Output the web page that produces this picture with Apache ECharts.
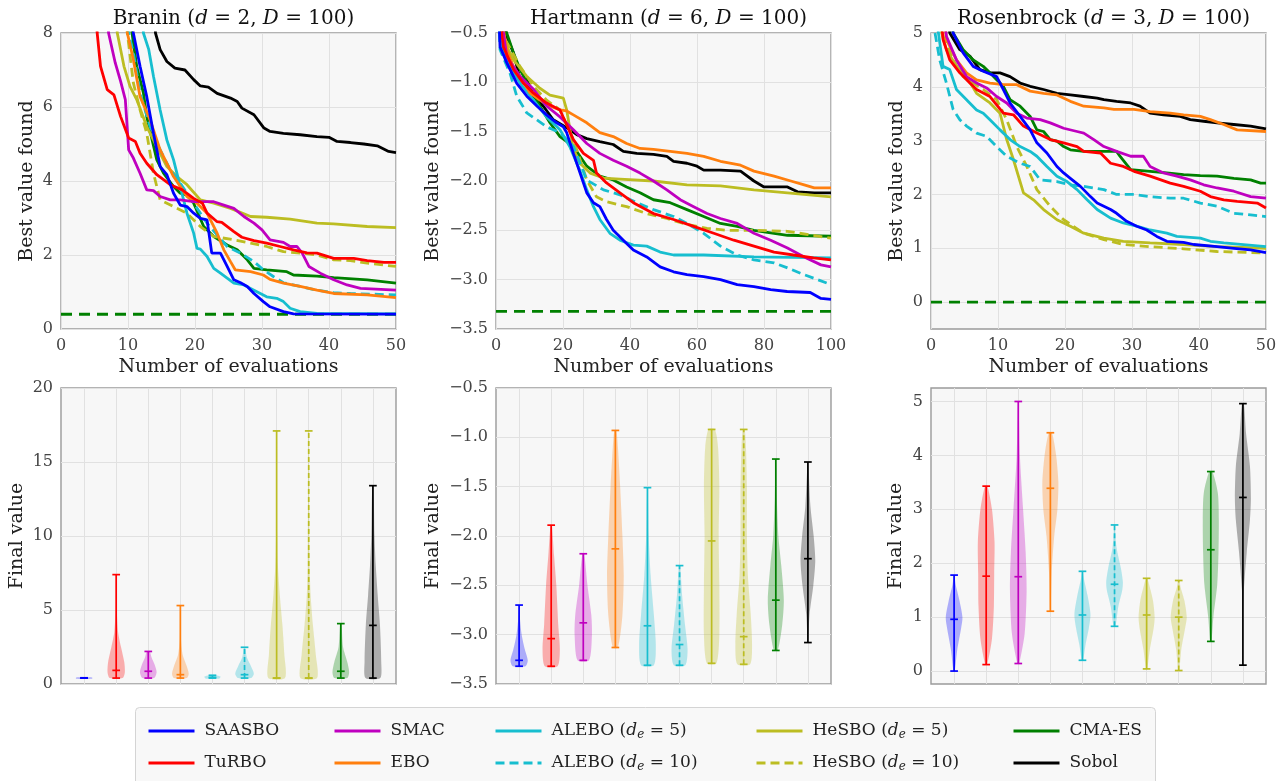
<!DOCTYPE html>
<html>
<head>
<meta charset="utf-8">
<script src="https://cdn.jsdelivr.net/npm/echarts@6/dist/echarts.min.js"></script>
<style>
  html, body { margin: 0; padding: 0; background: #fff; }
  #chart { width: 1286px; height: 781px; }
</style>
</head>
<body>
<div id="chart"></div>
<script>
// methods, in legend order (column by column)
const methods = ['SAASBO', 'TuRBO', 'SMAC', 'EBO', 'ALEBO (d_e = 5)', 'ALEBO (d_e = 10)',
  'HeSBO (d_e = 5)', 'HeSBO (d_e = 10)', 'CMA-ES', 'Sobol'];
const colors = ['#0000ff', '#ff0000', '#bf00bf', '#ff7f0e', '#17becf', '#17becf',
  '#bcbd22', '#bcbd22', '#008000', '#000000'];
const dashed = [false, false, false, false, false, true, false, true, false, false];

// ---- Branin (d = 2, D = 100), best value found vs evaluations ----
const braninSaasbo = [[1,60],[10.5,8.6],[10.8,8],[11.8,7.1],[12.8,6.28],[13.8,5.29],[14.8,4.39],[15.8,4.17],[16.8,3.67],[17.8,3.35],[18.8,3.31],[19.8,3.13],[20.8,2.99],[21.8,2.95],[22.5,2.05],[23.8,2.05],[24.8,1.69],[25.8,1.33],[26.8,1.25],[27.8,1.15],[28.8,0.96],[30.2,0.74],[31.2,0.6],[33.2,0.47],[34.7,0.41],[50,0.40]];
const braninTurbo = [[1,60],[5.2,8.6],[5.4,8],[5.9,7.1],[6.9,6.47],[7.9,6.33],[8.9,5.74],[10.1,5.16],[11.1,5.07],[11.8,4.75],[12.8,4.48],[14.3,4.17],[16.3,3.9],[18.1,3.76],[19.8,3.53],[21.1,3.4],[21.8,3.13],[23.3,2.9],[24,2.88],[25.8,2.63],[27,2.48],[28.8,2.39],[30.7,2.32],[32.7,2.23],[34.7,2.14],[36.7,2.06],[38.2,2.05],[40.7,1.91],[43.7,1.91],[45.7,1.85],[48.2,1.8],[50,1.8]];
const braninSmac = [[1,60],[6.9,8.6],[7.1,8],[8.1,7.19],[8.9,6.69],[9.6,6.2],[10.1,4.84],[10.8,4.62],[11.8,4.21],[12.8,3.76],[13.8,3.74],[14.8,3.58],[16.3,3.49],[17.8,3.49],[19.8,3.44],[22.8,3.44],[24.3,3.35],[25.8,3.26],[27.3,3.04],[28.8,2.86],[30,2.68],[31.2,2.41],[33.2,2.34],[34.2,2.23],[35.2,2.23],[36,2.05],[37,1.69],[38.7,1.51],[40.7,1.33],[42.7,1.19],[44.7,1.1],[50,1.05]];
const braninEbo = [[1,60],[9.7,8.6],[9.9,8],[10.8,7.28],[11.8,6.28],[13.3,5.65],[14.8,4.84],[16.8,4.12],[18.8,3.58],[20.3,3.4],[21.8,3.13],[23.3,2.59],[24.3,2.14],[25.3,1.82],[26,1.6],[28.3,1.55],[30.2,1.46],[31.2,1.34],[33.2,1.24],[35.7,1.15],[38.2,1.05],[40.7,0.96],[45.7,0.92],[50,0.85]];
const braninAlebo5 = [[1,60],[12.1,8.6],[12.3,8],[13.1,7.55],[13.8,6.83],[14.8,5.92],[15.8,5.11],[16.8,4.57],[17.8,3.85],[18.8,3.13],[19.8,2.59],[20.3,2.18],[20.8,2.16],[21.8,1.96],[22.8,1.64],[23.8,1.51],[25.8,1.24],[27.3,1.19],[28.8,1.05],[30.7,0.87],[32.2,0.83],[33.2,0.74],[34.2,0.56],[35.7,0.47],[38.2,0.42],[50,0.41]];
const braninAlebo10 = [[1,60],[9.9,8.6],[10.1,8],[10.8,7.46],[11.8,6.38],[13.3,5.47],[14.8,4.84],[16.3,4.3],[17.8,3.94],[19.8,3.4],[21.8,2.86],[24.8,2.23],[26.8,2.05],[28.8,1.82],[30.2,1.6],[31.7,1.42],[33.2,1.25],[35.7,1.15],[38.2,1.05],[40.7,0.98],[43.2,0.96],[50,0.92]];
const braninHesbo5 = [[1,60],[8.2,8.6],[8.4,8],[9.4,7.1],[10.3,6.56],[11.3,6.2],[12.8,5.47],[14.3,4.93],[15.8,4.39],[17.3,4.12],[18.8,3.9],[20.8,3.49],[22.8,3.4],[25.3,3.26],[28.3,3.04],[30.7,3.02],[34.2,2.97],[38.2,2.86],[40.7,2.84],[45.7,2.77],[50,2.74]];
const braninHesbo10 = [[1,60],[9.7,8.6],[9.9,8],[10.8,6.65],[11.8,5.92],[12.8,5.29],[13.8,4.21],[14.8,3.49],[16.8,3.31],[18.8,3.13],[20.8,2.77],[22.8,2.5],[25.8,2.41],[28.3,2.32],[30.7,2.23],[33.2,2.09],[35.7,2.05],[38.2,2.0],[40.7,1.87],[43.2,1.85],[45.7,1.78],[50,1.69]];
const braninCmaes = [[1,60],[10.4,8.6],[10.6,8],[11.3,7.1],[12.3,6.38],[12.8,5.74],[13.6,5.11],[14.3,4.57],[15.3,4.21],[16.8,3.85],[17.8,3.67],[18.8,3.62],[19.8,3.4],[21.3,2.77],[22.8,2.5],[24.8,2.27],[26.3,2.14],[27.8,1.87],[28.8,1.64],[30.7,1.6],[33.7,1.55],[34.7,1.46],[38.2,1.43],[40.7,1.39],[45.7,1.33],[50,1.24]];
const braninSobol = [[1,60],[13.9,8.6],[14.1,8],[14.8,7.55],[15.8,7.23],[17,7.05],[18.5,7.0],[19.8,6.74],[20.8,6.57],[22,6.54],[23.3,6.37],[25.3,6.24],[26.3,6.15],[27,5.97],[28.8,5.79],[30.3,5.43],[31.2,5.34],[33.2,5.29],[35.7,5.25],[38.2,5.2],[40,5.18],[41.2,5.07],[43.2,5.04],[45.2,5.0],[47.2,4.95],[48.9,4.8],[50,4.77]];
const braninOptimum = 0.398;

// ---- Hartmann (d = 6, D = 100) ----
const hartSaasbo = [[1,-0.45],[1.2,-0.64],[3.2,-0.8],[6.2,-1.01],[9.2,-1.14],[12.2,-1.24],[15.1,-1.33],[18.1,-1.41],[20.1,-1.45],[21.1,-1.51],[23.1,-1.72],[25.1,-1.92],[27.1,-2.12],[29.1,-2.22],[31,-2.26],[33,-2.39],[35,-2.5],[38,-2.6],[41,-2.7],[45,-2.77],[49,-2.87],[53,-2.92],[57,-2.95],[62,-2.97],[67,-3.0],[72,-3.05],[77,-3.07],[82,-3.1],[86.9,-3.12],[93.8,-3.13],[97,-3.19],[100,-3.2]];
const hartTurbo = [[1,-0.3],[2.2,-0.64],[5.2,-0.87],[8.2,-1.01],[11.2,-1.11],[15.1,-1.21],[19.1,-1.28],[23.1,-1.58],[26.1,-1.72],[29.1,-1.79],[30,-1.92],[33,-2.02],[37,-2.12],[41,-2.22],[47,-2.33],[53,-2.39],[59,-2.46],[65,-2.53],[71,-2.6],[77,-2.66],[83,-2.72],[88.8,-2.75],[94.8,-2.78],[100,-2.8]];
const hartSmac = [[1,-0.2],[3.2,-0.74],[7.2,-0.94],[11.2,-1.07],[15.1,-1.24],[19.1,-1.35],[23.1,-1.48],[27.1,-1.62],[31,-1.72],[35,-1.79],[39,-1.85],[43,-1.92],[47,-2.0],[51,-2.09],[55,-2.19],[59,-2.26],[63,-2.33],[67,-2.38],[72,-2.43],[77,-2.53],[82,-2.6],[87,-2.68],[92,-2.77],[97,-2.85],[100,-2.87]];
const hartEbo = [[1,-0.2],[3.2,-0.67],[5.2,-0.84],[7.2,-0.94],[10.2,-1.11],[13.1,-1.18],[16.1,-1.24],[19.1,-1.28],[21.1,-1.29],[23.1,-1.33],[27.1,-1.41],[31,-1.51],[35,-1.55],[39,-1.62],[43,-1.67],[47,-1.68],[52,-1.7],[57,-1.72],[62,-1.75],[67,-1.8],[73,-1.84],[77,-1.9],[83,-1.95],[88,-2.0],[92,-2.04],[95,-2.07],[100,-2.07]];
const hartAlebo5 = [[1,-0.45],[1.2,-0.57],[4.2,-0.84],[7.2,-1.01],[11.2,-1.18],[15.1,-1.35],[19.1,-1.48],[22,-1.65],[25,-1.89],[27.1,-2.09],[29.1,-2.26],[31,-2.39],[34,-2.53],[37,-2.6],[41,-2.65],[45,-2.66],[49,-2.72],[53,-2.75],[62,-2.75],[77,-2.77],[100,-2.78]];
const hartAlebo10 = [[1,-0.5],[1.2,-0.67],[4.2,-0.91],[6.2,-1.14],[9.2,-1.31],[12.2,-1.38],[15.1,-1.45],[19.1,-1.51],[23.1,-1.65],[27.1,-1.99],[32.1,-2.09],[37,-2.14],[42,-2.22],[47,-2.29],[53,-2.36],[57,-2.43],[62,-2.53],[67,-2.66],[72,-2.75],[77,-2.8],[83,-2.83],[87,-2.88],[92,-2.95],[100,-3.05]];
const hartHesbo5 = [[1,-0.3],[2.2,-0.57],[5.2,-0.77],[9.2,-0.94],[13.1,-1.06],[16.1,-1.13],[20.1,-1.16],[21.1,-1.28],[23.1,-1.68],[25.1,-1.82],[28.1,-1.92],[32.1,-1.97],[37,-1.98],[47,-2.0],[57,-2.04],[67,-2.05],[77,-2.09],[87,-2.12],[100,-2.16]];
const hartHesbo10 = [[1,-0.3],[2.2,-0.53],[7.2,-0.84],[11.2,-1.04],[15.1,-1.18],[19.1,-1.28],[23.1,-1.58],[27.1,-1.99],[30,-2.16],[33,-2.21],[39,-2.26],[45,-2.33],[51,-2.38],[57,-2.44],[63,-2.48],[69,-2.5],[77,-2.5],[87,-2.51],[100,-2.58]];
const hartCmaes = [[1,-0.1],[3.2,-0.5],[5.2,-0.7],[7.2,-0.87],[10.2,-1.07],[13.1,-1.24],[16.1,-1.41],[19.1,-1.55],[23.1,-1.65],[27.1,-1.85],[31,-1.95],[35,-1.99],[39,-2.06],[43,-2.12],[47,-2.19],[52,-2.22],[57,-2.29],[62,-2.36],[67,-2.43],[72,-2.46],[77,-2.5],[87,-2.55],[100,-2.56]];
const hartSobol = [[1,-0.1],[3.2,-0.53],[5.2,-0.7],[7.2,-0.97],[9.2,-0.97],[11.2,-1.14],[14.1,-1.24],[17.1,-1.38],[21.1,-1.46],[24.1,-1.53],[27.1,-1.57],[31,-1.6],[35,-1.63],[38,-1.7],[42,-1.72],[47,-1.73],[51,-1.75],[53,-1.8],[57,-1.82],[60,-1.85],[62,-1.89],[67,-1.89],[73,-1.9],[77,-2.0],[80,-2.06],[87,-2.06],[90,-2.11],[95,-2.12],[100,-2.12]];
const hartOptimum = -3.322;

// ---- Rosenbrock (d = 3, D = 100) ----
const rosSaasbo = [[1,7],[3.3,5],[4.8,4.63],[6.3,4.38],[7.8,4.29],[9.8,4.19],[10.8,3.95],[11.8,3.7],[13.3,3.45],[14.8,3.2],[15.8,2.96],[17.3,2.77],[18.8,2.52],[19.8,2.4],[20.8,2.3],[22.3,2.15],[23.8,1.96],[24.8,1.84],[26.8,1.72],[27.7,1.65],[29.2,1.5],[30.7,1.41],[32.2,1.34],[33.7,1.22],[35.2,1.13],[37.7,1.11],[39.2,1.07],[42.7,1.03],[45.2,1.0],[47.7,0.97],[50,0.92]];
const rosTurbo = [[1,6],[1.8,4.88],[2.8,4.5],[4.3,4.26],[5.8,4.07],[6.8,3.95],[8.8,3.82],[10.8,3.51],[12.3,3.48],[13.8,3.27],[15.8,3.14],[17.8,3.02],[19.8,2.96],[21.8,2.89],[22.8,2.8],[25.3,2.77],[26.8,2.58],[28.7,2.52],[30.3,2.43],[32.7,2.34],[35.7,2.21],[37.7,2.15],[40.2,2.06],[41.7,1.96],[43.7,1.9],[45.7,1.87],[48.7,1.84],[50,1.75]];
const rosSmac = [[1,6.5],[2.3,4.94],[3.8,4.5],[5.3,4.19],[6.8,4.07],[8.3,3.98],[9.8,3.82],[11.3,3.7],[12.8,3.51],[14.3,3.42],[16.3,3.39],[17.8,3.33],[19.8,3.23],[21.8,3.17],[22.8,3.14],[24.3,3.02],[25.8,2.89],[27.7,2.8],[29.8,2.71],[31.7,2.71],[32.7,2.52],[34.7,2.4],[36.7,2.34],[38.7,2.27],[40.7,2.18],[42.7,2.12],[45.2,2.06],[47.7,1.96],[50,1.93]];
const rosEbo = [[1,6.5],[2.3,4.88],[3.8,4.5],[5.3,4.26],[6.8,4.13],[8.8,4.07],[10.8,4.04],[12.8,4.04],[14.8,3.92],[16.8,3.88],[18.8,3.85],[20.8,3.73],[22.8,3.64],[25.8,3.61],[27.3,3.58],[30.3,3.58],[32.7,3.54],[35.7,3.51],[37.7,3.48],[40.2,3.45],[41.7,3.39],[43.7,3.3],[45.7,3.2],[50,3.17]];
const rosAlebo5 = [[1,5.1],[1.8,4.38],[2.8,4.32],[3.8,3.95],[5.3,3.76],[6.8,3.57],[7.8,3.51],[8.8,3.39],[10.3,3.2],[11.8,3.02],[13.3,2.89],[14.8,2.8],[15.8,2.71],[17.3,2.52],[18.8,2.34],[20.3,2.24],[21.8,2.09],[23.3,1.9],[24.8,1.72],[26.8,1.56],[28.7,1.47],[30.7,1.41],[32.7,1.34],[35.2,1.28],[36.7,1.22],[40.2,1.19],[41.7,1.13],[43.7,1.1],[50,1.03]];
const rosAlebo10 = [[0.6,5],[1.3,4.5],[2.3,4.07],[3.3,3.58],[4.3,3.39],[5.3,3.27],[6.8,3.14],[8.3,3.08],[9.8,2.89],[11.3,2.71],[13.3,2.58],[14.8,2.52],[16.3,2.27],[18.8,2.24],[20.8,2.18],[22.8,2.15],[25.8,2.09],[27.7,2.0],[30.3,2.0],[32.7,1.96],[35.7,1.93],[37.7,1.93],[40.2,1.84],[42.7,1.78],[45.2,1.65],[47.7,1.62],[50,1.59]];
const rosHesbo5 = [[1,6],[1.6,5],[2.3,4.69],[3.8,4.38],[5.3,4.19],[6.8,3.88],[8.8,3.7],[10.3,3.51],[11.3,3.02],[12.3,2.65],[13.8,2.03],[15.3,1.9],[16.8,1.72],[18.8,1.53],[20.8,1.41],[22.8,1.28],[25.8,1.19],[28.7,1.13],[32.7,1.1],[37.7,1.07],[42.7,1.03],[50,1.0]];
const rosHesbo10 = [[1,6],[1.8,4.94],[3.3,4.5],[4.8,4.19],[6.3,4.07],[7.8,3.95],[9.8,3.76],[11.3,3.39],[12.8,2.89],[14.3,2.52],[15.8,2.09],[17.8,1.78],[19.8,1.53],[22.8,1.28],[25.8,1.16],[28.7,1.07],[32.7,1.03],[37.7,0.99],[42.7,0.94],[50,0.91]];
const rosCmaes = [[1,7],[3.3,5],[4.8,4.69],[6.3,4.5],[7.8,4.38],[8.8,4.26],[9.8,4.13],[10.8,4.01],[11.8,3.76],[13.3,3.64],[14.8,3.45],[15.8,3.2],[16.8,3.17],[17.8,3.02],[18.8,2.99],[19.8,2.89],[20.8,2.83],[22.8,2.8],[27.7,2.8],[28.2,2.71],[29.8,2.46],[32.7,2.43],[35.2,2.4],[37.7,2.37],[40.2,2.35],[42.7,2.34],[45.2,2.3],[47.7,2.27],[49.2,2.21],[50,2.21]];
const rosSobol = [[1,7],[2.8,5],[4.3,4.69],[5.8,4.57],[7.3,4.32],[8.8,4.26],[10.3,4.26],[11.8,4.19],[13.3,4.07],[14.8,4.01],[16.8,3.95],[18.8,3.88],[20.8,3.85],[22.8,3.82],[24.8,3.79],[25.8,3.76],[27.7,3.73],[29.8,3.7],[31.2,3.64],[32.7,3.51],[34.7,3.48],[37.2,3.45],[38.7,3.39],[40.7,3.36],[42.7,3.33],[45.2,3.3],[47.7,3.27],[50,3.22]];
const rosOptimum = 0;

// ---- final values (violins): min, median, max and [value, half width] outline ----
const braninMin = [0.398, 0.40, 0.40, 0.40, 0.40, 0.40, 0.40, 0.40, 0.40, 0.40];
const braninMedian = [0.40, 0.92, 0.86, 0.63, 0.45, 0.63, 0.40, 0.40, 0.86, 3.96];
const braninMax = [0.42, 7.39, 2.2, 5.3, 0.59, 2.48, 17.1, 17.1, 4.08, 13.4];
const braninShape = [
  [[0.36,0.25],[0.44,0.25]],
  [[0.4,0.2],[0.8,0.27],[1.5,0.25],[2.5,0.15],[3.5,0.06],[5,0.02],[7.39,0.01]],
  [[0.4,0.18],[0.8,0.26],[1.3,0.2],[1.8,0.1],[2.2,0.05]],
  [[0.4,0.2],[0.7,0.26],[1.2,0.2],[2,0.07],[3,0.02],[5.3,0.01]],
  [[0.38,0.22],[0.5,0.25],[0.59,0.1]],
  [[0.4,0.2],[0.7,0.29],[1.2,0.2],[1.8,0.07],[2.48,0.02]],
  [[0.4,0.26],[2,0.24],[4,0.18],[6,0.1],[8,0.04],[10,0.02],[17.1,0.01]],
  [[0.4,0.26],[2,0.22],[4,0.13],[6,0.06],[8,0.03],[17.1,0.01]],
  [[0.4,0.2],[0.8,0.26],[1.5,0.2],[2.5,0.07],[4.08,0.02]],
  [[0.4,0.23],[1.5,0.26],[4,0.22],[6,0.15],[8,0.09],[10,0.05],[13.4,0.02]]
];
const hartMin = [-3.32, -3.32, -3.26, -3.13, -3.31, -3.31, -3.29, -3.30, -3.16, -3.08];
const hartMedian = [-3.26, -3.04, -2.88, -2.13, -2.91, -3.10, -2.05, -3.02, -2.65, -2.23];
const hartMax = [-2.70, -1.89, -2.18, -0.93, -1.51, -2.30, -0.92, -0.92, -1.22, -1.25];
const hartShape = [
  [[-3.32,0.2],[-3.26,0.27],[-3.15,0.18],[-3.0,0.08],[-2.85,0.03],[-2.7,0.01]],
  [[-3.32,0.2],[-3.15,0.27],[-2.9,0.22],[-2.5,0.16],[-2.2,0.09],[-1.89,0.02]],
  [[-3.26,0.18],[-3.0,0.27],[-2.8,0.25],[-2.5,0.13],[-2.18,0.03]],
  [[-3.13,0.08],[-2.8,0.22],[-2.4,0.26],[-2.0,0.22],[-1.5,0.15],[-1.1,0.08],[-0.93,0.03]],
  [[-3.31,0.2],[-3.1,0.26],[-2.8,0.2],[-2.4,0.1],[-2.0,0.04],[-1.51,0.01]],
  [[-3.31,0.18],[-3.15,0.25],[-2.9,0.17],[-2.6,0.08],[-2.3,0.02]],
  [[-3.29,0.15],[-3.0,0.24],[-2.5,0.24],[-2.0,0.22],[-1.5,0.24],[-1.1,0.2],[-0.92,0.1]],
  [[-3.3,0.2],[-3.1,0.26],[-2.8,0.22],[-2.4,0.13],[-2.0,0.1],[-1.5,0.1],[-1.1,0.07],[-0.92,0.03]],
  [[-3.16,0.06],[-2.9,0.2],[-2.65,0.25],[-2.3,0.17],[-2.0,0.08],[-1.6,0.03],[-1.22,0.01]],
  [[-3.08,0.01],[-2.8,0.05],[-2.5,0.17],[-2.25,0.23],[-2.0,0.18],[-1.7,0.08],[-1.25,0.01]]
];
const rosMin = [0.0, 0.12, 0.14, 1.11, 0.2, 0.83, 0.04, 0.01, 0.55, 0.11];
const rosMedian = [0.96, 1.76, 1.75, 3.39, 1.04, 1.61, 1.04, 1.0, 2.25, 3.22];
const rosMax = [1.78, 3.43, 5.0, 4.42, 1.85, 2.71, 1.72, 1.68, 3.7, 4.96];
const rosShape = [
  [[0,0.02],[0.4,0.1],[0.8,0.22],[1.0,0.26],[1.3,0.17],[1.6,0.05],[1.78,0.01]],
  [[0.12,0.03],[0.6,0.18],[1.2,0.24],[1.8,0.25],[2.4,0.26],[3.0,0.18],[3.43,0.04]],
  [[0.14,0.03],[0.7,0.2],[1.5,0.26],[2.2,0.23],[3.0,0.15],[4.0,0.05],[5.0,0.01]],
  [[1.11,0.01],[1.8,0.04],[2.5,0.12],[3.0,0.22],[3.5,0.25],[4.0,0.18],[4.42,0.05]],
  [[0.2,0.02],[0.5,0.1],[0.8,0.2],[1.05,0.25],[1.4,0.16],[1.7,0.05],[1.85,0.01]],
  [[0.83,0.03],[1.2,0.12],[1.5,0.24],[1.65,0.26],[1.9,0.2],[2.3,0.06],[2.71,0.01]],
  [[0.04,0.02],[0.4,0.1],[0.8,0.22],[1.0,0.25],[1.3,0.2],[1.6,0.08],[1.72,0.02]],
  [[0.01,0.02],[0.4,0.08],[0.8,0.2],[1.0,0.25],[1.3,0.18],[1.55,0.06],[1.68,0.02]],
  [[0.55,0.02],[1.0,0.08],[1.6,0.2],[2.2,0.24],[2.8,0.25],[3.3,0.22],[3.7,0.05]],
  [[0.11,0.005],[1.0,0.01],[1.5,0.03],[2.2,0.12],[2.8,0.22],[3.2,0.25],[3.8,0.22],[4.4,0.1],[4.96,0.03]]
];

const FONT = 'DejaVu Serif';
const panelLeft = [61, 496, 931];
const panelWidth = 335;

const chart = echarts.init(document.getElementById('chart'));

// grids: 0..2 top row, 3..5 bottom row
let grids = [];
for (let r = 0; r < 2; r++) {
  for (let c = 0; c < 3; c++) {
    grids.push({
      left: panelLeft[c], top: r === 0 ? 33 : 388, width: panelWidth, height: 296,
      show: true, backgroundColor: '#f7f7f7', borderColor: '#9a9a9a', borderWidth: 1.4
    });
  }
}

function minusFmt(dec) {
  return function (v) {
    let s = dec ? v.toFixed(dec) : String(Math.round(v));
    return s.replace('-', '\u2212');
  };
}

const splitStyle = { show: true, lineStyle: { color: '#e1e1e1', width: 1 } };
const labelStyle = { color: '#444', fontSize: 16, fontFamily: FONT, margin: 8 };
const nameStyle = { color: '#222', fontSize: 19, fontFamily: FONT };

function yAxis(gi, opt) {
  return Object.assign({
    type: 'value', gridIndex: gi,
    axisLine: { show: false }, axisTick: { show: false },
    splitLine: splitStyle, axisLabel: Object.assign({}, labelStyle),
    nameLocation: 'middle', nameRotate: 90, nameTextStyle: nameStyle
  }, opt);
}

const xAxes = [
  { type: 'value', gridIndex: 0, min: 0, max: 50, interval: 10 },
  { type: 'value', gridIndex: 1, min: 0, max: 100, interval: 20 },
  { type: 'value', gridIndex: 2, min: 0, max: 50, interval: 10 }
].map(function (a) {
  return Object.assign(a, {
    axisLine: { show: false }, axisTick: { show: false }, splitLine: splitStyle,
    axisLabel: Object.assign({}, labelStyle, { margin: 9 }),
    name: 'Number of evaluations', nameLocation: 'middle', nameGap: 29, nameTextStyle: nameStyle
  });
});
for (let g = 3; g < 6; g++) {
  xAxes.push({
    type: 'value', gridIndex: g, min: 0.28, max: 10.72,
    axisLine: { show: false },
    axisTick: { show: false, customValues: [1, 2, 3, 4, 5, 6, 7, 8, 9, 10] },
    axisLabel: { show: false, customValues: [1, 2, 3, 4, 5, 6, 7, 8, 9, 10] },
    splitLine: splitStyle
  });
}

const yAxes = [
  yAxis(0, { min: 0, max: 8, interval: 2, name: 'Best value found', nameGap: 24 }),
  yAxis(1, { min: -3.5, max: -0.5, interval: 0.5, name: 'Best value found', nameGap: 53,
    axisLabel: Object.assign({}, labelStyle, { formatter: minusFmt(1) }) }),
  yAxis(2, { min: -0.5, max: 5, name: 'Best value found', nameGap: 24,
    axisTick: { show: false, customValues: [0, 1, 2, 3, 4, 5] },
    axisLabel: Object.assign({}, labelStyle, { customValues: [0, 1, 2, 3, 4, 5] }) }),
  yAxis(3, { min: 0, max: 20, interval: 5, name: 'Final value', nameGap: 34 }),
  yAxis(4, { min: -3.5, max: -0.5, interval: 0.5, name: 'Final value', nameGap: 53,
    axisLabel: Object.assign({}, labelStyle, { formatter: minusFmt(1) }) }),
  yAxis(5, { min: -0.24, max: 5.25, name: 'Final value', nameGap: 25,
    axisTick: { show: false, customValues: [0, 1, 2, 3, 4, 5] },
    axisLabel: Object.assign({}, labelStyle, { customValues: [0, 1, 2, 3, 4, 5] }) })
];

const panelCurves = [
  [braninSaasbo, braninTurbo, braninSmac, braninEbo, braninAlebo5, braninAlebo10, braninHesbo5, braninHesbo10, braninCmaes, braninSobol],
  [hartSaasbo, hartTurbo, hartSmac, hartEbo, hartAlebo5, hartAlebo10, hartHesbo5, hartHesbo10, hartCmaes, hartSobol],
  [rosSaasbo, rosTurbo, rosSmac, rosEbo, rosAlebo5, rosAlebo10, rosHesbo5, rosHesbo10, rosCmaes, rosSobol]
];
const optima = [braninOptimum, hartOptimum, rosOptimum];
const xMax = [50, 100, 50];

let series = [];
// named line series first, so the legend picks them up; SAASBO drawn on top
for (let p = 0; p < 3; p++) {
  for (let m = 0; m < methods.length; m++) {
    series.push({
      type: 'line', name: methods[m], xAxisIndex: p, yAxisIndex: p,
      data: panelCurves[p][m], symbol: 'none', clip: true, animation: false,
      z: 20 - m,
      lineStyle: { color: colors[m], width: 2.8, type: dashed[m] ? [9, 5] : 'solid' },
      itemStyle: { color: colors[m] }
    });
  }
  series.push({
    type: 'line', name: 'optimum', xAxisIndex: p, yAxisIndex: p,
    data: [[0, optima[p]], [xMax[p], optima[p]]], symbol: 'none', animation: false, z: 5,
    lineStyle: { color: '#008000', width: 2.8, type: [11, 7] }
  });
}

function violinSeries(gi, mins, meds, maxs, shapes) {
  const data = mins.map(function (v, i) { return [i + 1, mins[i], meds[i], maxs[i]]; });
  return {
    type: 'custom', xAxisIndex: gi, yAxisIndex: gi, data: data, animation: false, z: 10,
    renderItem: function (params, api) {
      const i = params.dataIndex;
      const pos = api.value(0);
      const shape = shapes[i];
      const pts = [];
      for (let k = 0; k < shape.length; k++) pts.push(api.coord([pos + shape[k][1], shape[k][0]]));
      for (let k = shape.length - 1; k >= 0; k--) pts.push(api.coord([pos - shape[k][1], shape[k][0]]));
      const col = colors[i];
      const lineStyle = { stroke: col, lineWidth: 1.7 };
      const vStyle = { stroke: col, lineWidth: 1.7, lineDash: dashed[i] ? [5, 3] : null };
      const capHalf = api.coord([pos + 0.12, 0])[0] - api.coord([pos, 0])[0];
      const lo = api.coord([pos, api.value(1)]);
      const md = api.coord([pos, api.value(2)]);
      const hi = api.coord([pos, api.value(3)]);
      function cap(pt) {
        return { type: 'line', shape: { x1: pt[0] - capHalf, y1: pt[1], x2: pt[0] + capHalf, y2: pt[1] }, style: lineStyle };
      }
      return {
        type: 'group',
        children: [
          { type: 'polygon', shape: { points: pts, smooth: 0.25 }, style: { fill: col, opacity: 0.3 } },
          { type: 'line', shape: { x1: lo[0], y1: lo[1], x2: hi[0], y2: hi[1] }, style: vStyle },
          cap(lo), cap(hi), cap(md)
        ]
      };
    }
  };
}
series.push(violinSeries(3, braninMin, braninMedian, braninMax, braninShape));
series.push(violinSeries(4, hartMin, hartMedian, hartMax, hartShape));
series.push(violinSeries(5, rosMin, rosMedian, rosMax, rosShape));

const rich = {
  i: { fontStyle: 'italic', fontFamily: FONT, fontSize: 17, color: '#222' },
  sub: { fontStyle: 'italic', fontFamily: FONT, fontSize: 12, color: '#222', padding: [8, 0, 0, 0] }
};

// legend: five columns of two entries
const legendLeft = [142, 328, 489, 750, 1007];
const legends = legendLeft.map(function (lx, j) {
  return {
    orient: 'vertical', left: lx, top: 716, itemWidth: 46, itemHeight: 14, itemGap: 12,
    selectedMode: false, data: [methods[2 * j], methods[2 * j + 1]],
    itemStyle: { opacity: 0 },
    lineStyle: { width: 3 },
    textStyle: { fontFamily: FONT, fontSize: 17, color: '#222', lineHeight: 20, padding: [0, 0, 0, 5], rich: rich },
    formatter: function (name) { return name.replace('d_e', '{i|d}{sub|e}'); }
  };
});

const titleRich = { i: { fontStyle: 'italic', fontFamily: FONT, fontSize: 20, color: '#111' } };
const titles = [
  'Branin ({i|d} = 2, {i|D} = 100)',
  'Hartmann ({i|d} = 6, {i|D} = 100)',
  'Rosenbrock ({i|d} = 3, {i|D} = 100)'
].map(function (t, k) {
  return {
    text: t, left: panelLeft[k] + panelWidth / 2, textAlign: 'center', top: 4,
    textStyle: { fontFamily: FONT, fontSize: 20, fontWeight: 'normal', color: '#111', rich: titleRich }
  };
});

chart.setOption({
  animation: false,
  textStyle: { fontFamily: FONT },
  title: titles,
  grid: grids,
  xAxis: xAxes,
  yAxis: yAxes,
  legend: legends,
  graphic: [{
    type: 'rect', left: 135, top: 707, z: -1,
    shape: { width: 1020, height: 90, r: 4 },
    style: { fill: '#f8f8f8', stroke: '#d4d4d4', lineWidth: 1 }
  }],
  series: series
});
</script>
</body>
</html>
